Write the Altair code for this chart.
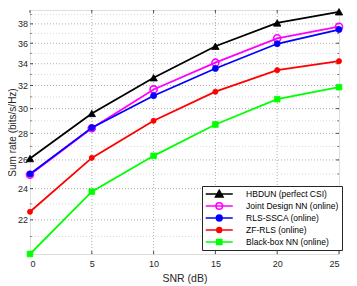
import altair as alt
import pandas as pd

# ---- data ----
snr = [0, 5, 10, 15, 20, 25]
series_names = [
    "HBDUN (perfect CSI)",
    "Joint Design NN (online)",
    "RLS-SSCA (online)",
    "ZF-RLS (online)",
    "Black-box NN (online)",
]
hbdun = [26.1, 29.6, 32.7, 35.7, 38.1, 39.3]
joint_nn = [24.95, 28.4, 31.65, 34.1, 36.5, 37.7]
rls_ssca = [25.0, 28.45, 31.1, 33.55, 35.95, 37.4]
zf_rls = [22.5, 26.15, 29.0, 31.45, 33.4, 34.25]
blackbox = [20.0, 23.8, 26.3, 28.7, 30.8, 31.85]

x_ticks = [0, 5, 10, 15, 20, 25]
y_ticks = [22, 24, 26, 28, 30, 32, 34, 36, 38]
y_minor = [21, 23, 25, 27, 29, 31, 33, 35, 37, 39]

# ---- styles ----
colors = ["#000000", "#ff00ff", "#0000ff", "#ff0000", "#00ff00"]
shapes = ["triangle-up", "circle", "circle", "circle", "square"]
sizes = [55, 50, 36, 26, 32]
filled = [True, False, True, True, True]
legend_paths = [
    "M-4.5,0H4.5M0,-1.2L1.25,0.95H-1.25Z",
    "M-4.5,0H4.5M1.1,0A1.1,1.1,0,1,1,-1.1,0A1.1,1.1,0,1,1,1.1,0Z",
    "M-4.5,0H4.5M0.95,0A0.95,0.95,0,1,1,-0.95,0A0.95,0.95,0,1,1,0.95,0Z",
    "M-4.5,0H4.5M0.8,0A0.8,0.8,0,1,1,-0.8,0A0.8,0.8,0,1,1,0.8,0Z",
    "M-4.5,0H4.5M-0.85,-0.85H0.85V0.85H-0.85Z",
]
legend_fills = ["#000000", "#ffffff", "#0000ff", "#ff0000", "#00ff00"]

W, H = 309, 244
FONT = "Liberation Sans"
TXT = "#262626"

values = [hbdun, joint_nn, rls_ssca, zf_rls, blackbox]
rows = []
for name, vals in zip(series_names, values):
    for s, v in zip(snr, vals):
        rows.append({"series": name, "snr": s, "rate": v})
df = pd.DataFrame(rows)

xscale = alt.Scale(domain=[0, 25], nice=False, zero=False)
yscale = alt.Scale(type="log", domain=[20, 39.5], nice=False, zero=False)

x_axis = alt.Axis(values=x_ticks, title="SNR (dB)", grid=False, ticks=False,
                  labelFont=FONT, labelFontSize=9, labelColor=TXT, labelPadding=5,
                  titleFont=FONT, titleFontSize=10.5, titleColor=TXT, titleFontWeight="normal",
                  titlePadding=5, domain=False)
y_axis = alt.Axis(values=y_ticks, title="Sum rate (bits/s/Hz)", grid=False, ticks=False,
                  labelFont=FONT, labelFontSize=9, labelColor=TXT, labelPadding=2.5,
                  titleFont=FONT, titleFontSize=10, titleColor=TXT, titleFontWeight="normal",
                  titleX=-12.5, titleY=H / 2, domain=False)

# grid lines
minor_df = pd.DataFrame({"y": y_minor})
major_df = pd.DataFrame({"y": y_ticks})
xgrid_df = pd.DataFrame({"x": x_ticks[1:-1]})

minor_grid = alt.Chart(minor_df).mark_rule(color="#d0d0d0", strokeWidth=0.8, strokeDash=[1, 2]).encode(
    y=alt.Y("y:Q", scale=yscale, axis=y_axis))
major_grid = alt.Chart(major_df).mark_rule(color="#9a9a9a", strokeWidth=0.8, strokeDash=[1, 2]).encode(
    y=alt.Y("y:Q", scale=yscale))
x_grid = alt.Chart(xgrid_df).mark_rule(color="#9a9a9a", strokeWidth=0.8, strokeDash=[1, 2]).encode(
    x=alt.X("x:Q", scale=xscale, axis=x_axis))

# inner ticks (mirrored on all four sides)
ytick_l = alt.Chart(major_df).mark_rule(color=TXT, strokeWidth=0.8).encode(
    y=alt.Y("y:Q", scale=yscale), x=alt.value(0), x2=alt.value(3))
ytick_r = alt.Chart(major_df).mark_rule(color=TXT, strokeWidth=0.8).encode(
    y=alt.Y("y:Q", scale=yscale), x=alt.value(W - 3), x2=alt.value(W))
ymin_l = alt.Chart(minor_df).mark_rule(color=TXT, strokeWidth=0.6).encode(
    y=alt.Y("y:Q", scale=yscale), x=alt.value(0), x2=alt.value(1.8))
ymin_r = alt.Chart(minor_df).mark_rule(color=TXT, strokeWidth=0.6).encode(
    y=alt.Y("y:Q", scale=yscale), x=alt.value(W - 1.8), x2=alt.value(W))
xt_df = pd.DataFrame({"x": x_ticks})
xtick_b = alt.Chart(xt_df).mark_rule(color=TXT, strokeWidth=0.8).encode(
    x=alt.X("x:Q", scale=xscale), y=alt.value(H), y2=alt.value(H - 3))
xtick_t = alt.Chart(xt_df).mark_rule(color=TXT, strokeWidth=0.8).encode(
    x=alt.X("x:Q", scale=xscale), y=alt.value(0), y2=alt.value(3))

layers = [minor_grid, major_grid, x_grid, ytick_l, ytick_r, ymin_l, ymin_r, xtick_b, xtick_t]

for i, name in enumerate(series_names):
    sub = df[df["series"] == name]
    base = alt.Chart(sub).encode(
        x=alt.X("snr:Q", scale=xscale),
        y=alt.Y("rate:Q", scale=yscale),
    )
    line = base.mark_line(color=colors[i], strokeWidth=1.8)
    if filled[i]:
        pts = base.mark_point(shape=shapes[i], size=sizes[i], filled=True, fill=colors[i],
                              stroke=colors[i], strokeWidth=0.8, opacity=1)
    else:
        pts = base.mark_point(shape=shapes[i], size=sizes[i], filled=False,
                              stroke=colors[i], strokeWidth=1.6, opacity=1)
    layers += [line, pts]

leg_common = dict(orient="none", legendX=172, legendY=176, title=None, padding=3,
                  strokeColor=TXT, fillColor="#ffffff", cornerRadius=0,
                  labelFont=FONT, labelFontSize=8.5, labelColor="#000000",
                  symbolSize=36, symbolStrokeWidth=1.6, rowPadding=2,
                  clipHeight=10, symbolOffset=10, labelOffset=22.6)
legend_layer = alt.Chart(pd.DataFrame({"series": series_names})).transform_filter("false").mark_point(
    filled=True, opacity=1, strokeWidth=1.6).encode(
    shape=alt.Shape("series:N", scale=alt.Scale(domain=series_names, range=legend_paths),
                    legend=alt.Legend(**leg_common)),
    fill=alt.Fill("series:N", scale=alt.Scale(domain=series_names, range=legend_fills),
                  legend=alt.Legend(**leg_common)),
    stroke=alt.Stroke("series:N", scale=alt.Scale(domain=series_names, range=colors),
                      legend=alt.Legend(**leg_common)),
)
layers.append(legend_layer)

chart = alt.layer(*layers).properties(
    width=W, height=H,
    autosize=alt.AutoSizeParams(type="none"),
    padding={"left": 22, "top": 2, "right": 10, "bottom": 30},
).configure_view(stroke="#5a5a5a", strokeWidth=0.8).configure(background="#ffffff")

chart.save("out.html", embed_options={"renderer": "svg", "actions": False})
